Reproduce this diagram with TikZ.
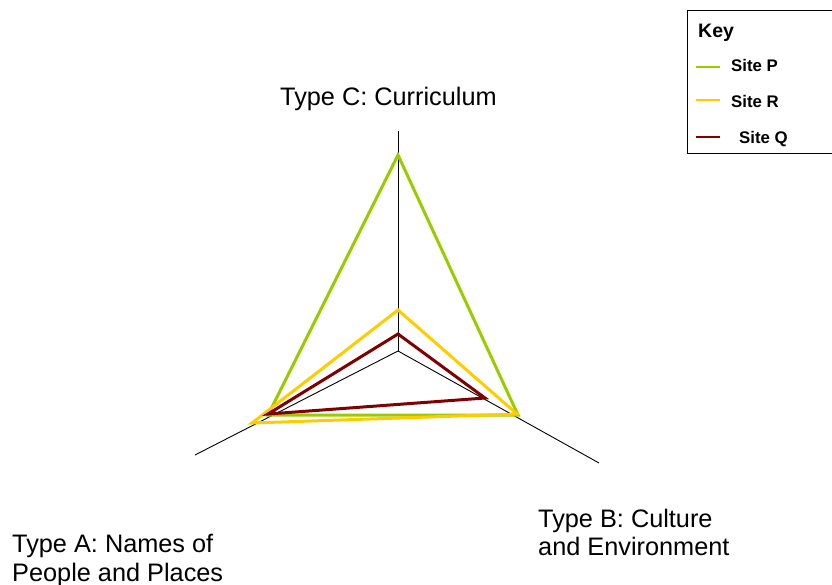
\documentclass[tikz,border=0pt]{standalone}
\usepackage{fontspec}
\setmainfont{Liberation Sans}
\usepackage{tikz}
\usetikzlibrary{positioning}
\definecolor{siteP}{RGB}{153,204,0}
\definecolor{siteR}{RGB}{255,204,0}
\definecolor{siteQ}{RGB}{128,0,0}
\tikzset{
    %Define style for axes
    axis/.style={
           draw=black, line width=0.9pt},
    %Define style for the site outlines
    sitep/.style={draw=siteP, line width=3pt, line join=miter},
    siter/.style={draw=siteR, line width=3pt, line join=miter},
    siteq/.style={draw=siteQ, line width=3pt, line join=miter},
    %Define style for labels
    axislabel/.style={
           inner sep=0pt,
           anchor=base west,
           align=left,
           font=\fontsize{25.3}{28.5}\selectfont},
    keylabel/.style={
           inner sep=0pt,
           anchor=base west,
           font=\fontsize{16.8}{18}\selectfont\bfseries}
}

\begin{document}
\begin{tikzpicture}[x=1pt,y=-1pt]
\useasboundingbox (0,0) rectangle (832,584);
 %axes
\coordinate (O) at (398,351);
\coordinate (C) at (398,131);
\coordinate (A) at (195,455);
\coordinate (B) at (599,463);
\draw[axis] (O) -- (C);
\draw[axis] (O) -- (A);
\draw[axis] (O) -- (B);

 %site values
\coordinate (pc) at (398,155);
\coordinate (pa) at (268,415);
\coordinate (pb) at (518,415);
\coordinate (rc) at (398,310);
\coordinate (ra) at (252,423);
\coordinate (rb) at (517,414);
\coordinate (qc) at (398,334);
\coordinate (qa) at (268,414);
\coordinate (qb) at (485,398);

\draw[sitep] (pc) -- (pb) -- (pa) -- cycle;
\draw[siter] (rc) -- (rb) -- (ra) -- cycle;
\draw[siteq] (qc) -- (qb) -- (qa) -- cycle;

 %axis labels
\node[axislabel] (lc) at (280,105) {Type C: Curriculum};
\node[axislabel] (lb) at (538,555.5) {Type B: Culture\\and Environment};
\node[axislabel] (la) at (12,581) {Type A: Names of\\People and Places};

 %key
\draw[line width=1pt] (687,10) rectangle (834,153);
\node[keylabel, font=\fontsize{19.5}{22}\selectfont\bfseries] (key) at (698,37) {Key};
\node[keylabel] (kp) at (731,71) {Site P};
\node[keylabel] (kr) at (731,107) {Site R};
\node[keylabel] (kq) at (739,143) {Site Q};
\draw[sitep, line width=2pt] (696,67) -- (720,67);
\draw[siter, line width=2pt] (696,100) -- (720,100);
\draw[siteq, line width=2pt] (696,137) -- (720,137);
\end{tikzpicture}
\end{document}
